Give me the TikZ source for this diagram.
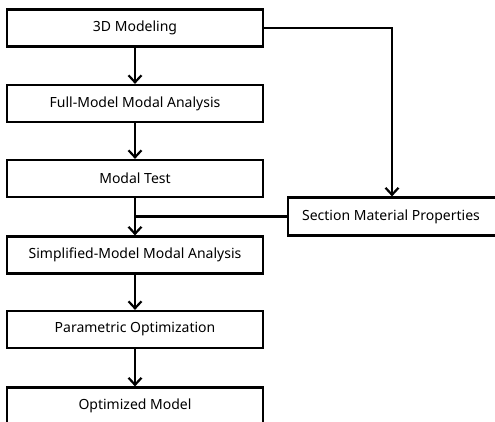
\documentclass[tikz,border=0pt]{standalone}
\usepackage{fontspec}
\setmainfont{Noto Sans}
\usetikzlibrary{arrows.meta}
\begin{document}
\begin{tikzpicture}[x=1pt,y=-1pt,
  box/.style={draw,line width=2.2pt,rectangle,minimum width=256pt,minimum height=37pt,inner sep=0pt,font=\fontsize{14}{16}\selectfont},
  sidebox/.style={draw,line width=2.2pt,rectangle,minimum width=240pt,minimum height=38pt,inner sep=0pt},
  conn/.style={line width=2.2pt},
  arr/.style={conn,-{Straight Barb[length=7pt,width=13pt,line width=2.2pt]}}]
\useasboundingbox (0,0) rectangle (495,422);
\begin{scope}
\clip (0,0) rectangle (495,422);
\node[box] (m3d) at (135,28) {3D Modeling};
\node[box] (full) at (135,103.5) {Full-Model Modal Analysis};
\node[box] (test) at (135,178.5) {Modal Test};
\node[box] (simp) at (135,255) {Simplified-Model Modal Analysis};
\node[box] (para) at (135,329.5) {Parametric Optimization};
\node[box] (opt) at (135,406) {Optimized Model};
\node[sidebox,anchor=west] (smp) at (287,216.5) {};
\node[font=\fontsize{14}{16}\selectfont] (smptext) at (391,216.5) {Section Material Properties};
\coordinate (bend) at (392,28);
\coordinate (join) at (135,216.5);
\draw[arr] (m3d) -- (full);
\draw[arr] (full) -- (test);
\draw[arr] (test) -- (simp);
\draw[arr] (simp) -- (para);
\draw[arr] (para) -- (opt);
\draw[conn] (smp.west) -- (join);
\draw[arr] (m3d.east) -- (bend) -- (bend |- smp.north);
\end{scope}
\end{tikzpicture}
\end{document}
